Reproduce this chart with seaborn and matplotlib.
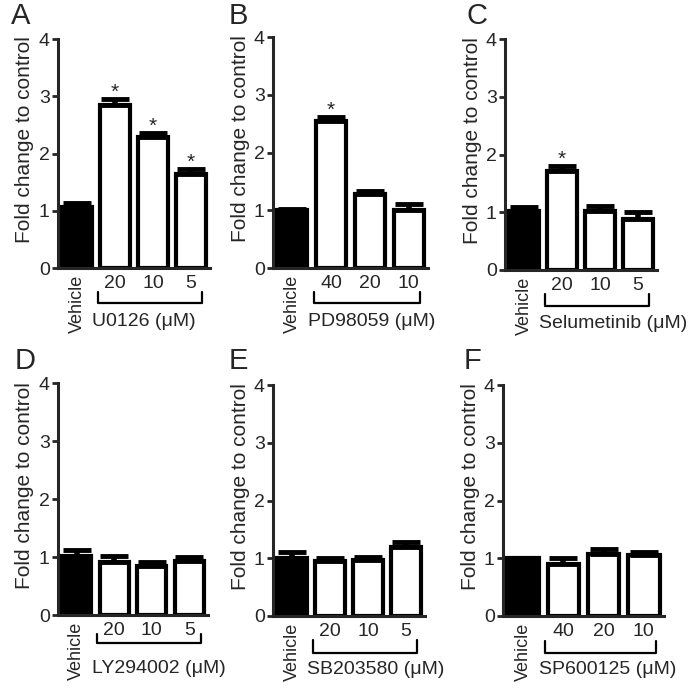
import matplotlib
matplotlib.use("Agg")
import matplotlib.pyplot as plt
import matplotlib.transforms as mtrans
import seaborn as sns
import pandas as pd

# --- Data ---
letters = ["A", "B", "C", "D", "E", "F"]
drugs = ["U0126", "PD98059", "Selumetinib", "LY294002", "SB203580", "SP600125"]
doses = [["20", "10", "5"], ["40", "20", "10"], ["20", "10", "5"],
         ["20", "10", "5"], ["20", "10", "5"], ["40", "20", "10"]]
means = [[1.06, 2.85, 2.28, 1.65],
         [1.00, 2.55, 1.28, 1.01],
         [1.02, 1.71, 1.03, 0.88],
         [1.01, 0.91, 0.84, 0.93],
         [1.01, 0.96, 0.97, 1.20],
         [1.00, 0.90, 1.08, 1.05]]
errors = [[0.08, 0.10, 0.08, 0.08],
          [0.02, 0.07, 0.05, 0.10],
          [0.07, 0.09, 0.08, 0.12],
          [0.11, 0.10, 0.08, 0.07],
          [0.10, 0.05, 0.06, 0.09],
          [0.01, 0.11, 0.08, 0.06]]
significant = [[False, True, True, True],
               [False, True, False, False],
               [False, True, False, False],
               [False, False, False, False],
               [False, False, False, False],
               [False, False, False, False]]

# --- Style ---
sns.set_style("ticks")
plt.rcParams['font.family'] = ['Liberation Sans', 'DejaVu Sans']

W, H = 688, 693
fig = plt.figure(figsize=(W / 100, H / 100), dpi=100)

# axes boxes in pixels: left, right, y of value 0, y of value 4
boxes = [(58, 210, 268, 39), (273, 428, 268, 37), (505, 657, 270, 39),
         (58, 208, 615, 383), (273, 425, 616, 385), (503, 664, 616, 385)]
letter_pos = [(11, 2), (229, 2), (466, 2), (15, 347), (229, 347), (464, 347)]
# bracket (top, bottom) in axes fraction below the x axis
bracket_y = [(0.105, 0.155), (0.105, 0.15), (0.105, 0.155),
             (0.08, 0.12), (0.104, 0.16), (0.11, 0.16)]

for i in range(6):
    l, r, y0, y4 = boxes[i]
    ax = fig.add_axes([l / W, 1 - y0 / H, (r - l) / W, (y0 - y4) / H])

    df = pd.DataFrame({"cond": ["Vehicle"] + doses[i], "fold": means[i]})
    sns.barplot(data=df, x="cond", y="fold", hue="cond",
                palette=["black", "white", "white", "white"], saturation=1,
                edgecolor="black", linewidth=3, width=0.78, errorbar=None,
                legend=False, ax=ax)
    ax.errorbar(range(4), means[i], yerr=[[0] * 4, errors[i]], fmt="none",
                ecolor="black", elinewidth=4, capsize=10, capthick=3.5,
                zorder=5)

    for j in range(4):
        if significant[i][j]:
            ax.text(j, means[i][j] + errors[i][j] + 0.02, "*", ha="center",
                    va="baseline", fontsize=15)

    ax.set_ylim(0, 4)
    ax.set_xlim(-0.5, 3.5)
    ax.set_yticks([0, 1, 2, 3, 4])
    ax.set_xlabel("")
    ax.set_ylabel("Fold change to control", fontsize=15, labelpad=3)
    ax.yaxis.label.set_y(0.56)
    sns.despine(ax=ax)
    for side in ["left", "bottom"]:
        ax.spines[side].set_linewidth(2.2)
    ax.tick_params(axis="y", labelsize=14, length=4, width=2, pad=2)
    ax.tick_params(axis="x", labelsize=14, length=0, pad=5)
    ax.set_xticks(range(4))
    ax.set_xticklabels(["Vehicle"] + doses[i])
    vlab = ax.get_xticklabels()[0]
    vlab.set_rotation(90)
    vlab.set_fontsize(13)

    # bracket under the doses, drug name below it
    trans = mtrans.blended_transform_factory(ax.transData, ax.transAxes)
    bt, bb = bracket_y[i]
    ax.plot([0.55, 0.55, 3.3, 3.3], [-bt, -bb, -bb, -bt],
            color="black", lw=1.6, transform=trans, clip_on=False)
    ax.text(0.4, -0.232, drugs[i] + " (\u03bcM)", ha="left", va="center",
            fontsize=14, transform=trans)

    fig.text(letter_pos[i][0] / W, 1 - letter_pos[i][1] / H, letters[i],
             ha="left", va="top", fontsize=21)

fig.savefig("out.png", dpi=100)
